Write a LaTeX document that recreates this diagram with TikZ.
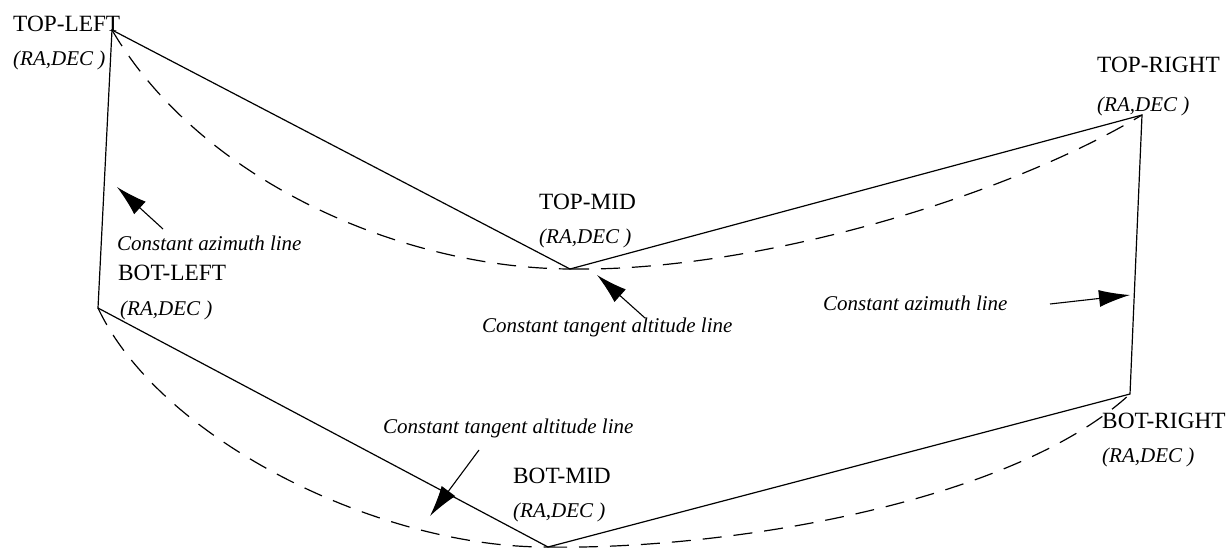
\documentclass[tikz,border=0pt]{standalone}
\usepackage{fontspec}
\setmainfont{Liberation Serif}
\usetikzlibrary{arrows.meta}
\begin{document}
\begin{tikzpicture}[x=1pt,y=-1pt,
  edge/.style={line width=1.2pt,black},
  arc/.style={line width=1.2pt,black,dash pattern=on 19pt off 12pt},
  pointer/.style={line width=1.1pt,-{Latex[length=31pt,width=17pt]}},
  caplabel/.style={anchor=base west,inner sep=0pt,font=\fontsize{23.3}{26}\selectfont},
  coordlabel/.style={anchor=base west,inner sep=0pt,font=\fontsize{21}{24}\selectfont\itshape},
  notelabel/.style={anchor=base west,inner sep=0pt,font=\fontsize{21}{24}\selectfont\itshape}]
\useasboundingbox (0,0) rectangle (1231,548);
% corners
\coordinate (TL) at (112,30);
\coordinate (TM) at (570,269);
\coordinate (TR) at (1142,115);
\coordinate (BL) at (98,308);
\coordinate (BM) at (548,547);
\coordinate (BR) at (1130,394);
% solid edges
\draw[edge] (TL) -- (TM) -- (TR) -- (BR) -- (BM) -- (BL) -- cycle;
% dashed constant tangent altitude lines
\draw[arc] (TL) .. controls (200,180) and (400,268) .. (TM);
\draw[arc] (TM) .. controls (750,272) and (1000,200) .. (TR);
\draw[arc] (BL) .. controls (160,440) and (380,548) .. (BM);
\draw[arc] (BM) .. controls (720,550) and (1010,505) .. (BR);
% labels
\node[caplabel] (tll) at (13,32) {TOP-LEFT};
\node[coordlabel] (tlc) at (13,66) {(RA,DEC )};
\node[caplabel] (tml) at (539,210) {TOP-MID};
\node[coordlabel] (tmc) at (539,243) {(RA,DEC )};
\node[caplabel] (trl) at (1097,73) {TOP-RIGHT};
\node[coordlabel] (trc) at (1097,112) {(RA,DEC )};
\node[caplabel] (bll) at (118,280) {BOT-LEFT};
\node[coordlabel] (blc) at (120,315) {(RA,DEC )};
\node[caplabel] (bml) at (513,483) {BOT-MID};
\node[coordlabel] (bmc) at (513,517) {(RA,DEC )};
\node[caplabel] (brl) at (1102,428) {BOT-RIGHT};
\node[coordlabel] (brc) at (1102,462) {(RA,DEC )};
% notes
\node[notelabel] (azl) at (117,250) {Constant azimuth line};
\node[notelabel] (azr) at (823,310) {Constant azimuth line};
\node[notelabel] (tat) at (482,332) {Constant tangent altitude line};
\node[notelabel] (tab) at (383,433) {Constant tangent altitude line};
% arrows
\coordinate (a1s) at (163,229); \coordinate (a1e) at (117,187);
\coordinate (a2s) at (645,318); \coordinate (a2e) at (597,275);
\coordinate (a3s) at (1050,304); \coordinate (a3e) at (1130,295);
\coordinate (a4s) at (479,450); \coordinate (a4e) at (430,516);
\draw[pointer] (a1s) -- (a1e);
\draw[pointer] (a2s) -- (a2e);
\draw[pointer] (a3s) -- (a3e);
\draw[pointer] (a4s) -- (a4e);
\end{tikzpicture}
\end{document}
